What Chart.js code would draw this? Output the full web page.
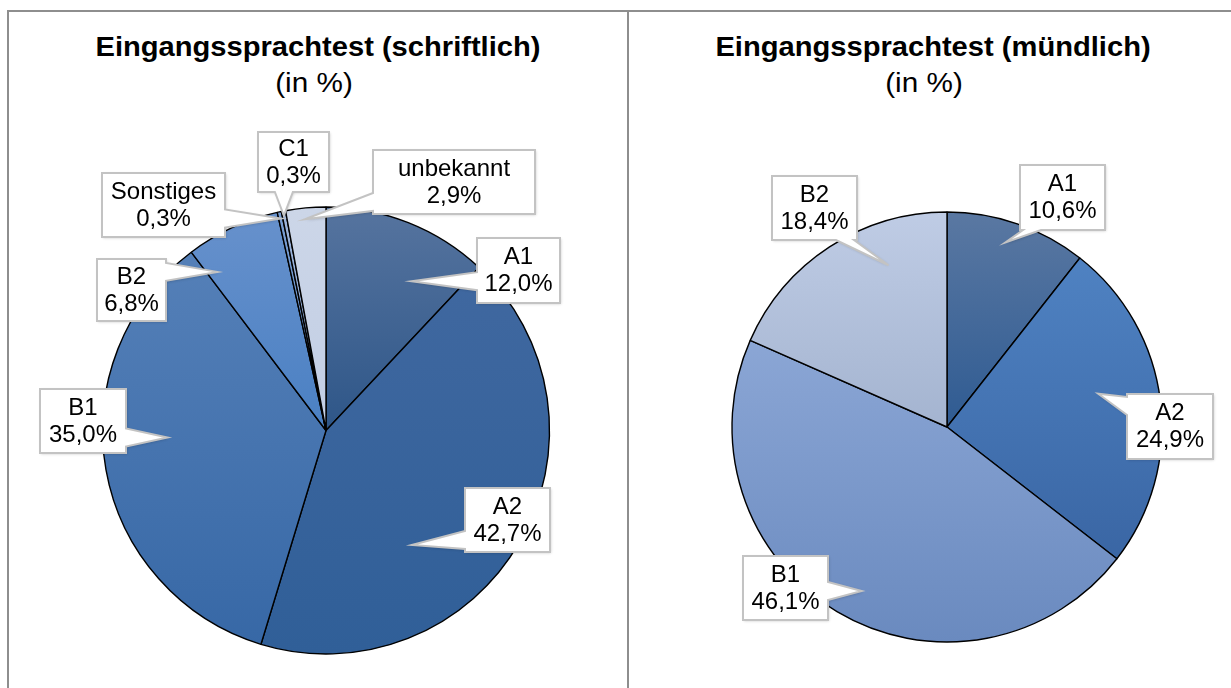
<!DOCTYPE html>
<html>
<head>
<meta charset="utf-8">
<script src="https://cdn.jsdelivr.net/npm/chart.js@4/dist/chart.umd.min.js"></script>
<style>
  body { margin: 0; background: #fff; width: 1231px; height: 688px; overflow: hidden; position: relative; font-family: "Liberation Sans", Arial, sans-serif; }
  #frame { position: absolute; left: 7px; top: 10px; width: 1240px; height: 700px; border-top: 2px solid #8e8e8e; border-left: 2px solid #8e8e8e; }
  #divider { position: absolute; left: 627px; top: 10px; width: 2px; height: 700px; background: #8e8e8e; }
  .title { position: absolute; white-space: nowrap; font-weight: bold; font-size: 28px; color: #000; transform: translateX(-50%) scaleX(1.04); }
  .sub { position: absolute; white-space: nowrap; font-size: 27px; color: #000; transform: translateX(-50%) scaleX(1.1); }
  canvas { position: absolute; }
</style>
</head>
<body>
<div id="frame"></div>
<div id="divider"></div>
<div class="title" style="left:318px; top:31px;">Eingangssprachtest (schriftlich)</div>
<div class="sub" style="left:314px; top:68px;">(in %)</div>
<div class="title" style="left:933px; top:31px;">Eingangssprachtest (mündlich)</div>
<div class="sub" style="left:924px; top:68px;">(in %)</div>
<canvas id="chartWritten" width="618" height="588" style="left:9px; top:100px;"></canvas>
<canvas id="chartOral" width="602" height="588" style="left:629px; top:100px;"></canvas>
<script>
// data: written test
var writtenLabels = ['A1', 'A2', 'B1', 'B2', 'Sonstiges', 'C1', 'unbekannt'];
var writtenValues = [12.0, 42.7, 35.0, 6.8, 0.3, 0.3, 2.9];
var writtenColors = [
  ['#56749f', '#2e5688'],
  ['#4068a0', '#305f98'],
  ['#5580b8', '#3768a6'],
  ['#6791cc', '#4a80c3'],
  ['#7a9fd4', '#5e8bc8'],
  ['#9db5dc', '#88a5d3'],
  ['#ccd6e8', '#c2cee4']
];

// data: oral test
var oralLabels = ['A1', 'A2', 'B1', 'B2'];
var oralValues = [10.6, 24.9, 46.1, 18.4];
var oralColors = [
  ['#5a78a2', '#2f5b92'],
  ['#4f82c2', '#3a66a4'],
  ['#8ba6d5', '#6a8abf'],
  ['#bfcce5', '#a4b4d0']
];

// callout layout: box [x, y, w, h] in canvas px, pointer side, tip position inside slice (t along arc, fraction of radius)
var writtenCallouts = [
  { box: [468, 138, 83, 65], side: 'left',   t: 0.69, rf: 0.77 },
  { box: [456, 388, 85, 64], side: 'left',   t: 0.65, rf: 0.64 },
  { box: [31, 289, 86, 64],  side: 'right',  t: 0.56, rf: 0.71 },
  { box: [88, 159, 69, 62],  side: 'right',  t: 0.11, rf: 0.86 },
  { box: [93, 73, 123, 64],  side: 'right',  t: 0.5,  rf: 0.97 },
  { box: [249, 32, 71, 60],  side: 'bottom', t: 0.4,  rf: 0.98 },
  { box: [364, 50, 162, 64], side: 'left',   t: 0.45, rf: 0.95 }
];
var oralCallouts = [
  { box: [391, 65, 85, 65],  side: 'bottom', t: 0.46, rf: 0.9 },
  { box: [498, 294, 86, 65], side: 'left',   t: 0.44, rf: 0.72 },
  { box: [114, 456, 85, 64], side: 'right',  t: 0.48, rf: 0.86 },
  { box: [143, 76, 85, 64],  side: 'bottom', t: 0.7,  rf: 0.8 }
];

function fmt(v) {
  return v.toFixed(1).replace('.', ',') + '%';
}

// vertical gradient over the bounding box of each slice
function sliceGradient(colors, radius) {
  return function(ctx) {
    var chart = ctx.chart;
    var area = chart.chartArea;
    var pair = colors[ctx.dataIndex];
    if (!area) return pair[1];
    var data = ctx.dataset.data;
    var total = 0, before = 0;
    for (var i = 0; i < data.length; i++) {
      total += data[i];
      if (i < ctx.dataIndex) before += data[i];
    }
    var a0 = -Math.PI / 2 + 2 * Math.PI * before / total;
    var a1 = a0 + 2 * Math.PI * data[ctx.dataIndex] / total;
    var cy = (area.top + area.bottom) / 2;
    var ys = [cy, cy + radius * Math.sin(a0), cy + radius * Math.sin(a1)];
    [Math.PI / 2, 3 * Math.PI / 2].forEach(function(a) {
      if (a >= a0 && a <= a1) ys.push(cy + radius * Math.sin(a));
    });
    var y0 = Math.min.apply(null, ys), y1 = Math.max.apply(null, ys);
    if (y1 - y0 < 1) y1 = y0 + 1;
    var g = chart.ctx.createLinearGradient(0, y0, 0, y1);
    g.addColorStop(0, pair[0]);
    g.addColorStop(1, pair[1]);
    return g;
  };
}

var calloutPlugin = {
  id: 'callouts',
  afterDatasetsDraw: function(chart, args, opts) {
    var ctx = chart.ctx;
    var meta = chart.getDatasetMeta(0);
    var labels = chart.data.labels;
    var values = chart.data.datasets[0].data;
    meta.data.forEach(function(arc, i) {
      var c = opts.items[i];
      var p = arc.getProps(['x', 'y', 'startAngle', 'endAngle', 'outerRadius'], true);
      var ang = p.startAngle + (p.endAngle - p.startAngle) * c.t;
      var tx = p.x + Math.cos(ang) * p.outerRadius * c.rf;
      var ty = p.y + Math.sin(ang) * p.outerRadius * c.rf;
      var x = c.box[0], y = c.box[1], w = c.box[2], h = c.box[3];
      var hw = 9, m = 3;
      var clamp = function(v, lo, hi) { return Math.max(lo, Math.min(hi, v)); };

      ctx.save();
      ctx.beginPath();
      ctx.moveTo(x, y);
      if (c.side === 'top') {
        var bx = clamp(tx, x + hw + m, x + w - hw - m);
        ctx.lineTo(bx - hw, y); ctx.lineTo(tx, ty); ctx.lineTo(bx + hw, y);
      }
      ctx.lineTo(x + w, y);
      if (c.side === 'right') {
        var by = clamp(ty, y + hw + m, y + h - hw - m);
        ctx.lineTo(x + w, by - hw); ctx.lineTo(tx, ty); ctx.lineTo(x + w, by + hw);
      }
      ctx.lineTo(x + w, y + h);
      if (c.side === 'bottom') {
        var bx2 = clamp(tx, x + hw + m, x + w - hw - m);
        ctx.lineTo(bx2 + hw, y + h); ctx.lineTo(tx, ty); ctx.lineTo(bx2 - hw, y + h);
      }
      ctx.lineTo(x, y + h);
      if (c.side === 'left') {
        var by2 = clamp(ty, y + hw + m, y + h - hw - m);
        ctx.lineTo(x, by2 + hw); ctx.lineTo(tx, ty); ctx.lineTo(x, by2 - hw);
      }
      ctx.closePath();
      ctx.shadowColor = 'rgba(0,0,0,0.22)';
      ctx.shadowBlur = 3;
      ctx.shadowOffsetX = 1;
      ctx.shadowOffsetY = 1;
      ctx.fillStyle = '#ffffff';
      ctx.fill();
      ctx.shadowColor = 'transparent';
      ctx.lineWidth = 2;
      ctx.strokeStyle = '#c3c3c3';
      ctx.lineJoin = 'miter';
      ctx.stroke();

      ctx.fillStyle = '#000';
      ctx.font = '24px "Liberation Sans", Arial, sans-serif';
      ctx.textAlign = 'center';
      ctx.textBaseline = 'middle';
      ctx.fillText(labels[i], x + w / 2, y + h / 2 - 13);
      ctx.fillText(fmt(values[i]), x + w / 2, y + h / 2 + 14);
      ctx.restore();
    });
  }
};

function makePie(id, labels, values, colors, callouts, radius, padding) {
  return new Chart(document.getElementById(id).getContext('2d'), {
    type: 'pie',
    data: {
      labels: labels,
      datasets: [{
        data: values,
        backgroundColor: sliceGradient(colors, radius),
        borderColor: '#000',
        borderWidth: 1.4
      }]
    },
    options: {
      responsive: false,
      animation: false,
      radius: radius,
      layout: { padding: padding },
      plugins: {
        legend: { display: false },
        tooltip: { enabled: false },
        callouts: { items: callouts }
      }
    },
    plugins: [calloutPlugin]
  });
}

makePie('chartWritten', writtenLabels, writtenValues, writtenColors, writtenCallouts, 223.5,
  { left: 93.5, top: 107, right: 77.5, bottom: 34 });
makePie('chartOral', oralLabels, oralValues, oralColors, oralCallouts, 215,
  { left: 103, top: 112, right: 69, bottom: 46 });
</script>
</body>
</html>
